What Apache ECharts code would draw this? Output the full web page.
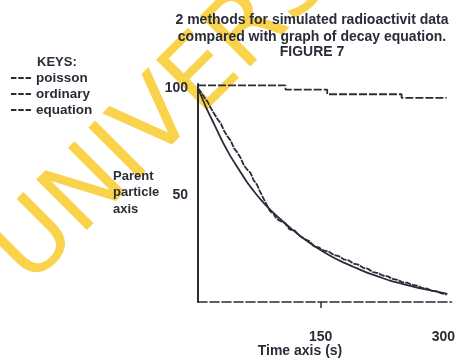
<!DOCTYPE html>
<html>
<head>
<meta charset="utf-8">
<script src="https://cdn.jsdelivr.net/npm/echarts@6/dist/echarts.min.js"></script>
<style>
  html, body { margin: 0; padding: 0; background: #fff; }
  #chart { width: 458px; height: 358px; }
</style>
</head>
<body>
<div id="chart"></div>
<script>
// values
const titleLines = [
  '2 methods for simulated radioactivit data',
  'compared with graph of decay equation.',
  'FIGURE 7',
]
const seriesNames = ['poisson', 'ordinary', 'equation']
const yAxisNameLines = ['Parent', 'particle', 'axis']
const xAxisName = 'Time axis (s)'
const xTickLabels = [150, 300]
const yTickLabels = [50, 100]

// poisson: step line near the top
const poissonTime = [0, 107, 107, 158, 158, 249, 249, 304]
const poissonValue = [101.4, 101.4, 99.4, 99.4, 97.2, 97.2, 95.5, 95.5]

// ordinary simulation (jagged)
const ordinaryTime = [0, 4, 8, 12, 16, 20, 24, 28, 32, 36, 40, 44, 48, 52, 56, 60, 64, 68, 72, 76,
  80, 84, 88, 92, 96, 100, 106, 112, 118, 124, 130, 136, 142, 148, 154, 160, 166, 172, 178, 184,
  190, 196, 202, 208, 214, 220, 226, 232, 238, 244, 250, 256, 262, 268, 274, 280, 286, 292, 298, 304]
const ordinaryValue = [100, 98, 95.5, 93.5, 90.5, 88, 85.5, 83.5, 80, 77.5, 75.5, 72, 70, 67.5, 64, 62, 60.5, 57, 55, 51.5,
  48.5, 45.5, 42.5, 41.5, 39, 38, 37, 34, 33.5, 31, 29.5, 28.5, 26, 25.5, 24, 23.5, 22, 21.5, 20, 19.5,
  18, 17.5, 16, 15.5, 14, 13.5, 12.4, 12, 10.8, 10.4, 9.2, 9, 8, 7.6, 6.6, 6.3, 5.2, 5, 4, 3.5]

// decay equation (smooth)
const equationTime = [0, 10, 20, 30, 40, 50, 60, 70, 80, 90, 100, 115, 130, 145, 160, 175, 190, 205, 220, 235, 250, 265, 280, 295, 305]
const equationValue = [100, 91, 83, 75, 68, 62, 56, 51, 46.5, 42.5, 39, 34, 29.5, 25.5, 22, 19, 16.5, 14, 12, 10, 8.5, 7, 5.8, 4.6, 3.8]

const ink = '#2a2c38'
const font = 'Liberation Sans'
const dashIcon = 'path://M0,0h6v2h-6z M8,0h6v2h-6z M16,0h6v2h-6z'

function pairs(xs, ys) {
  return xs.map((x, i) => [x, ys[i]])
}

const chart = echarts.init(document.getElementById('chart'), null, { renderer: 'canvas' })

const graphic = [
  {
    type: 'text',
    z: -10,
    x: 46,
    y: 304,
    rotation: Math.PI / 4,
    style: {
      text: 'UNIVERSITY',
      fill: 'rgba(249, 205, 52, 0.88)',
      font: 'normal 98px "DejaVu Sans"',
      textVerticalAlign: 'bottom',
    },
  },
  {
    type: 'text',
    x: 37,
    y: 62,
    style: { text: 'KEYS:', fill: ink, font: 'bold 13px "' + font + '"', textVerticalAlign: 'middle' },
  },
]
titleLines.forEach((line, i) => {
  graphic.push({
    type: 'text',
    x: 312,
    y: [20, 37, 52][i],
    style: {
      text: line,
      fill: ink,
      font: 'bold 14px "' + font + '"',
      textAlign: 'center',
      textVerticalAlign: 'middle',
    },
  })
})
yAxisNameLines.forEach((line, i) => {
  graphic.push({
    type: 'text',
    x: 113,
    y: [176, 192, 209][i],
    style: { text: line, fill: ink, font: 'bold 13px "' + font + '"', textVerticalAlign: 'middle' },
  })
})
graphic.push({
  type: 'text',
  x: 300,
  y: 351,
  style: {
    text: xAxisName,
    fill: ink,
    font: 'bold 14px "' + font + '"',
    textAlign: 'center',
    textVerticalAlign: 'middle',
  },
})

chart.setOption({
  animation: false,
  backgroundColor: '#fff',
  graphic,
  legend: {
    orient: 'vertical',
    left: 11,
    top: 71,
    padding: 0,
    icon: dashIcon,
    itemWidth: 20,
    itemHeight: 2,
    itemGap: 2,
    data: seriesNames,
    textStyle: { color: ink, fontFamily: font, fontWeight: 'bold', fontSize: 13.5, lineHeight: 14 },
  },
  grid: { left: 198, right: 6, top: 84, bottom: 56 },
  xAxis: {
    type: 'value',
    min: 0,
    max: 310,
    interval: 150,
    splitLine: { show: false },
    axisLine: { lineStyle: { color: ink, width: 1.6, type: [9, 3] } },
    axisTick: { show: true, customValues: [150], length: 6, inside: false, lineStyle: { color: ink, width: 1.5 } },
    axisLabel: {
      customValues: xTickLabels,
      margin: 28,
      color: ink,
      fontFamily: font,
      fontWeight: 'bold',
      fontSize: 14,
    },
  },
  yAxis: {
    type: 'value',
    min: 0,
    max: 102,
    interval: 50,
    splitLine: { show: false },
    axisLine: { show: true, lineStyle: { color: ink, width: 2 } },
    axisTick: { show: false },
    axisLabel: {
      customValues: yTickLabels,
      margin: 10,
      color: ink,
      fontFamily: font,
      fontWeight: 'bold',
      fontSize: 14,
    },
  },
  series: [
    {
      name: seriesNames[0],
      type: 'line',
      symbol: 'none',
      data: pairs(poissonTime, poissonValue),
      lineStyle: { color: ink, width: 1.8, type: [8, 2] },
      itemStyle: { color: ink },
    },
    {
      name: seriesNames[1],
      type: 'line',
      symbol: 'none',
      data: pairs(ordinaryTime, ordinaryValue),
      lineStyle: { color: ink, width: 1.8, type: [6, 1] },
      itemStyle: { color: ink },
    },
    {
      name: seriesNames[2],
      type: 'line',
      symbol: 'none',
      smooth: 0.3,
      data: pairs(equationTime, equationValue),
      lineStyle: { color: ink, width: 1.8 },
      itemStyle: { color: ink },
    },
  ],
})
</script>
</body>
</html>
